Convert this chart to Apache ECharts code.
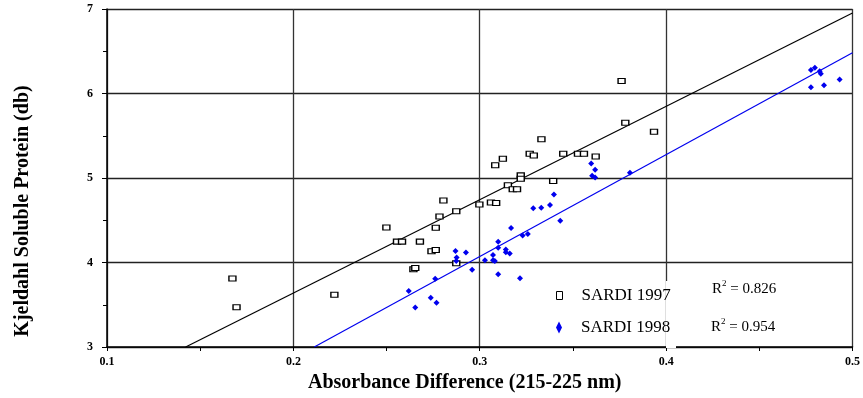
<!DOCTYPE html>
<html>
<head>
<meta charset="utf-8">
<script src="https://cdn.jsdelivr.net/npm/echarts@6/dist/echarts.min.js"></script>
<style>
  html, body { margin: 0; padding: 0; background: #fff; }
  #chart { width: 863px; height: 398px; }
</style>
</head>
<body>
<div id="chart"></div>
<script>
// SARDI 1997 samples: [absorbance difference, soluble protein]
const sardi1997 = [
  [0.1673, 3.812], [0.1695, 3.471], [0.2220, 3.619], [0.2499, 4.413],
  [0.2556, 4.247], [0.2583, 4.247], [0.2644, 3.921], [0.2654, 3.936],
  [0.2679, 4.247], [0.2741, 4.133], [0.2764, 4.148], [0.2764, 4.412],
  [0.2784, 4.545], [0.2805, 4.733], [0.2874, 4.607], [0.2874, 3.992],
  [0.2998, 4.686], [0.3060, 4.709], [0.3088, 4.704], [0.3083, 5.151],
  [0.3124, 5.227], [0.3151, 4.913], [0.3177, 4.868], [0.3200, 4.868],
  [0.3220, 5.031], [0.3220, 4.992], [0.3268, 5.286], [0.3290, 5.266],
  [0.3331, 5.459], [0.3394, 4.965], [0.3448, 5.286], [0.3527, 5.286],
  [0.3559, 5.286], [0.3622, 5.254], [0.3761, 6.148], [0.3781, 5.654],
  [0.3935, 5.548]
];

// SARDI 1998 samples
const sardi1998 = [
  [0.2619, 3.662], [0.2654, 3.466], [0.2737, 3.584], [0.2761, 3.807],
  [0.2768, 3.525], [0.2870, 4.136], [0.2876, 4.059], [0.2874, 4.019],
  [0.2926, 4.118], [0.2959, 3.913], [0.3028, 4.027], [0.3071, 4.027],
  [0.3081, 4.019], [0.3071, 4.089], [0.3099, 4.176], [0.3099, 4.247],
  [0.3099, 3.862], [0.3140, 4.153], [0.3140, 4.121], [0.3161, 4.106],
  [0.3168, 4.409], [0.3216, 3.815], [0.3230, 4.319], [0.3258, 4.336],
  [0.3287, 4.641], [0.3330, 4.648], [0.3377, 4.680], [0.3398, 4.804],
  [0.3432, 4.495], [0.3598, 5.172], [0.3619, 5.098], [0.3603, 5.027],
  [0.3619, 5.007], [0.3806, 5.062], [0.4777, 6.278], [0.4798, 6.306],
  [0.4824, 6.262], [0.4830, 6.235], [0.4777, 6.074], [0.4847, 6.098],
  [0.4931, 6.165]
];

// regression line end points
const fit1997 = [[0.1422, 3], [0.5, 6.953]];
const fit1998 = [[0.2112, 3], [0.5, 6.482]];

const seriesNames = ['SARDI 1997', 'SARDI 1998'];
const r2Labels = ['0.826', '0.954'];

const serif = '"Liberation Serif", "DejaVu Serif", serif';
const blue = '#0000ee';

const chart = echarts.init(document.getElementById('chart'));

chart.setOption({
  animation: false,
  backgroundColor: '#fff',
  grid: { left: 107, right: 4, top: 9, bottom: 49 },
  xAxis: {
    type: 'value',
    min: 0.1,
    max: 0.5,
    interval: 0.1,
    name: 'Absorbance Difference (215-225 nm)',
    nameLocation: 'middle',
    nameGap: 26,
    nameTextStyle: {
      fontFamily: serif, fontSize: 20, fontWeight: 'bold', color: '#000',
      padding: [0, 30, 0, 0]
    },
    axisLine: { lineStyle: { color: '#000', width: 1.5 } },
    axisTick: { show: true, inside: false, length: 4, lineStyle: { color: '#000' } },
    minorTick: { show: true, splitNumber: 2, length: 4, lineStyle: { color: '#000' } },
    axisLabel: {
      fontFamily: serif, fontSize: 12, fontWeight: 'bold', color: '#000', margin: 9,
      formatter: v => v.toFixed(1)
    },
    splitLine: { show: true, lineStyle: { color: '#333', width: 1.3 } }
  },
  yAxis: {
    type: 'value',
    min: 3,
    max: 7,
    interval: 1,
    name: 'Kjeldahl Soluble Protein (db)',
    nameLocation: 'middle',
    nameGap: 74,
    nameTextStyle: {
      fontFamily: serif, fontSize: 20, fontWeight: 'bold', color: '#000',
      padding: [0, 66, 0, 0]
    },
    axisLine: { lineStyle: { color: '#000', width: 1.5 } },
    axisTick: { show: true, inside: false, length: 5, lineStyle: { color: '#000' } },
    minorTick: { show: true, splitNumber: 2, length: 4, lineStyle: { color: '#000' } },
    axisLabel: {
      fontFamily: serif, fontSize: 12, fontWeight: 'bold', color: '#000', margin: 14
    },
    splitLine: { show: true, lineStyle: { color: '#222', width: 1.3 } }
  },
  legend: [
    {
      data: [{ name: seriesNames[0], icon: 'rect' }],
      left: 551, top: 282,
      z: 10,
      itemWidth: 6, itemHeight: 8,
      itemStyle: { color: '#fff', borderColor: '#000', borderWidth: 1 },
      textStyle: {
        fontFamily: serif, fontSize: 17, color: '#000',
        padding: [0, 0, 0, 14]
      },
      selectedMode: false
    },
    {
      data: [{ name: seriesNames[1], icon: 'diamond' }],
      left: 551, top: 314,
      z: 10,
      itemWidth: 6, itemHeight: 12,
      itemStyle: { color: blue, borderWidth: 0 },
      textStyle: {
        fontFamily: serif, fontSize: 17, color: '#000',
        padding: [0, 0, 0, 14]
      },
      selectedMode: false
    }
  ],
  graphic: [
    {
      // the 0.4 grid line stops above the legend
      type: 'rect',
      z: 1,
      shape: { x: 666, y: 281, width: 10, height: 67 },
      style: { fill: '#fff' }
    },
    {
      type: 'text',
      z: 11,
      left: 712, top: 279,
      style: {
        text: '{r|R}{s|2}{r| = ' + r2Labels[0] + '}',
        rich: {
          r: { fontFamily: serif, fontSize: 15, lineHeight: 18, fill: '#000', verticalAlign: 'bottom' },
          s: { fontFamily: serif, fontSize: 9, lineHeight: 18, fill: '#000', verticalAlign: 'top' }
        }
      }
    },
    {
      type: 'text',
      z: 11,
      left: 711, top: 317,
      style: {
        text: '{r|R}{s|2}{r| = ' + r2Labels[1] + '}',
        rich: {
          r: { fontFamily: serif, fontSize: 15, lineHeight: 18, fill: '#000', verticalAlign: 'bottom' },
          s: { fontFamily: serif, fontSize: 9, lineHeight: 18, fill: '#000', verticalAlign: 'top' }
        }
      }
    }
  ],
  series: [
    {
      name: seriesNames[0],
      type: 'scatter',
      symbol: 'rect',
      symbolSize: [7, 5],
      itemStyle: { color: '#fff', borderColor: '#000', borderWidth: 1.2, opacity: 1 },
      data: sardi1997,
      z: 4
    },
    {
      name: seriesNames[1],
      type: 'scatter',
      symbol: 'diamond',
      symbolSize: [6, 6],
      itemStyle: { color: blue, opacity: 1 },
      data: sardi1998,
      z: 4
    },
    {
      name: 'fit 1997',
      type: 'line',
      data: fit1997,
      showSymbol: false,
      symbol: 'none',
      lineStyle: { color: '#000', width: 1.2 },
      z: 3
    },
    {
      name: 'fit 1998',
      type: 'line',
      data: fit1998,
      showSymbol: false,
      symbol: 'none',
      lineStyle: { color: blue, width: 1.2 },
      z: 3
    }
  ]
});
</script>
</body>
</html>
